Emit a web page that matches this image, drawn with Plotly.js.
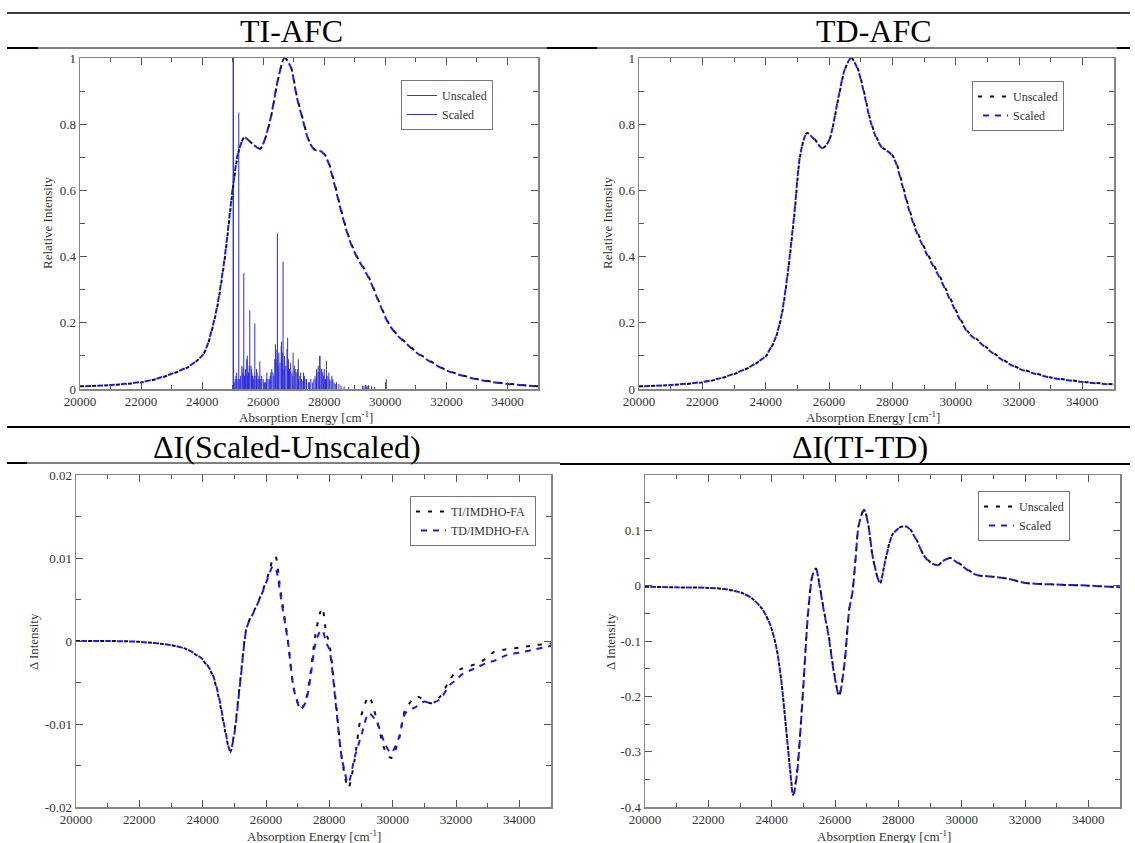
<!DOCTYPE html>
<html><head><meta charset="utf-8">
<script src="https://cdn.plot.ly/plotly-3.0.1.min.js"></script>
<style>html,body{margin:0;padding:0;background:#fff;} #chart{width:1135px;height:843px;}</style>
</head><body><div id="chart"></div>
<script>
// ---------- tick labels ----------
const xTickVals = [20000,22000,24000,26000,28000,30000,32000,34000];
const xTickText = ['20000','22000','24000','26000','28000','30000','32000','34000'];
const afcTickVals = [0,0.2,0.4,0.6,0.8,1];
const afcTickText = ['0','0.2','0.4','0.6','0.8','1'];
const duTickVals = [-0.02,-0.01,0,0.01,0.02];
const duTickText = ['-0.02','-0.01','0','0.01','0.02'];
const ttTickVals = [-0.4,-0.3,-0.2,-0.1,0,0.1];
const ttTickText = ['-0.4','-0.3','-0.2','-0.1','0','0.1'];

// ---------- TI-AFC (panel 1) ----------
const tiE = [20000,21000,22000,22500,23000,23500,23800,24000,24150,24300,24500,24750,25000,25200,25400,25600,25900,26200,26500,26700,26900,27100,27300,27500,27700,27900,28100,28300,28500,28700,28900,29100,29300,29500,29700,29900,30100,30400,30700,31000,31500,32000,32500,33000,33500,34000,35000];
const tiUnscaled = [0.008,0.012,0.020,0.030,0.045,0.064,0.083,0.100,0.125,0.170,0.250,0.400,0.600,0.720,0.762,0.745,0.726,0.800,0.940,1.000,0.975,0.885,0.815,0.750,0.722,0.720,0.695,0.635,0.560,0.490,0.435,0.395,0.365,0.330,0.285,0.240,0.200,0.163,0.138,0.113,0.083,0.057,0.042,0.030,0.022,0.016,0.008];
const tiScaled   = [0.008,0.012,0.021,0.031,0.046,0.065,0.084,0.101,0.127,0.173,0.253,0.405,0.605,0.722,0.760,0.744,0.727,0.802,0.942,1.000,0.973,0.882,0.812,0.748,0.721,0.718,0.692,0.630,0.556,0.487,0.432,0.393,0.362,0.327,0.282,0.238,0.198,0.161,0.136,0.111,0.081,0.056,0.041,0.029,0.021,0.015,0.008];
// stick spectra
const stickEUnscaled = [25020,25340,25480,25540,25620,25700,25800,25870,26100,26250,26400,26450,26600,26640,26800,26830,26980,27050,27150,27230,27320,27400,27750,27850,27920,28070,28150,28280,28400,29400,30030];
const stickIUnscaled = [1.0,0.065,0.100,0.070,0.060,0.040,0.050,0.030,0.030,0.050,0.135,0.090,0.143,0.110,0.155,0.090,0.110,0.060,0.090,0.050,0.050,0.030,0.060,0.100,0.060,0.085,0.050,0.030,0.020,0.010,0.030];
const stickEScaled = [25020,25050,25080,25110,25130,25170,25200,25230,25260,25300,25330,25365,25390,25420,25460,25490,25520,25560,25600,25630,25650,25690,25725,25760,25780,25830,25860,25890,25920,25950,26000,26040,26080,26120,26160,26200,26230,26280,26320,26350,26380,26420,26465,26490,26510,26550,26590,26620,26650,26680,26700,26740,26780,26820,26860,26900,26940,26970,27020,27080,27120,27160,27200,27260,27300,27350,27420,27480,27520,27560,27620,27660,27700,27730,27760,27800,27830,27860,27900,27950,27980,28000,28040,28080,28120,28180,28220,28250,28320,28360,28400,28480,28550,28650,28800,29250,29300,29350,29400,29450,29550,29650];
const stickIScaled = [1.0,0.02,0.03,0.04,0.05,0.03,0.835,0.03,0.04,0.07,0.05,0.35,0.04,0.06,0.09,0.04,0.05,0.238,0.07,0.05,0.04,0.03,0.198,0.04,0.06,0.03,0.04,0.083,0.03,0.04,0.03,0.02,0.02,0.05,0.03,0.03,0.04,0.06,0.05,0.04,0.09,0.12,0.47,0.07,0.11,0.08,0.13,0.08,0.385,0.06,0.10,0.07,0.12,0.06,0.06,0.08,0.05,0.04,0.07,0.05,0.06,0.03,0.04,0.03,0.025,0.04,0.03,0.02,0.02,0.03,0.02,0.03,0.04,0.03,0.05,0.07,0.05,0.10,0.06,0.05,0.04,0.06,0.03,0.04,0.04,0.03,0.025,0.04,0.02,0.015,0.02,0.015,0.01,0.008,0.006,0.01,0.008,0.012,0.007,0.011,0.008,0.006];

// ---------- TD-AFC (panel 2) ----------
const tdE = [20000,21000,22000,22500,23000,23500,23800,24000,24300,24500,24700,24900,25100,25300,25500,25800,26000,26300,26500,26700,26900,27100,27300,27500,27700,27900,28100,28300,28500,28700,28900,29100,29300,29500,29700,29900,30100,30400,30700,31000,31500,32000,32500,33000,34000,35000];
const tdUnscaled = [0.008,0.012,0.020,0.030,0.045,0.066,0.084,0.098,0.150,0.220,0.350,0.520,0.710,0.773,0.760,0.728,0.750,0.880,0.965,1.000,0.970,0.900,0.815,0.760,0.728,0.718,0.690,0.625,0.555,0.495,0.450,0.410,0.375,0.340,0.300,0.260,0.220,0.172,0.148,0.124,0.088,0.063,0.048,0.035,0.022,0.014];
const tdScaled   = [0.008,0.012,0.021,0.031,0.046,0.067,0.085,0.100,0.152,0.223,0.354,0.525,0.712,0.772,0.758,0.727,0.751,0.882,0.966,1.000,0.968,0.897,0.812,0.757,0.726,0.715,0.686,0.620,0.550,0.490,0.445,0.405,0.370,0.335,0.295,0.255,0.216,0.169,0.145,0.121,0.086,0.061,0.046,0.034,0.021,0.013];

// ---------- dI(Scaled-Unscaled) (panel 3) ----------
const duE = [20000,21000,22000,23000,23500,24000,24300,24500,24700,24870,25000,25200,25400,25630,25860,26090,26210,26300,26440,26500,26690,26890,27100,27250,27400,27550,27700,27780,27900,28000,28200,28400,28600,28800,29000,29250,29500,29750,29950,30200,30400,30750,31000,31200,31500,31800,32000,32200,32600,33000,33200,33600,34000,34500,35000];
const duTI = [0,0,-0.0001,-0.0005,-0.001,-0.0023,-0.004,-0.0067,-0.0107,-0.0134,-0.011,-0.0043,0.0018,0.0037,0.0057,0.0082,0.0098,0.0102,0.0065,0.005,0.0001,-0.0059,-0.0082,-0.0072,-0.004,0.0005,0.0033,0.004,0.001,-0.0003,-0.0071,-0.0143,-0.0177,-0.0143,-0.0091,-0.0067,-0.0095,-0.0131,-0.0141,-0.0118,-0.0083,-0.0067,-0.0071,-0.0075,-0.0067,-0.0047,-0.0037,-0.0033,-0.0028,-0.002,-0.0013,-0.001,-0.0008,-0.0005,-0.0003];
const duTD = [0,0,-0.0001,-0.0005,-0.001,-0.0022,-0.0039,-0.0065,-0.0105,-0.0133,-0.0112,-0.0045,0.0017,0.0036,0.0056,0.0079,0.009,0.0088,0.006,0.0045,0.0,-0.006,-0.0082,-0.0074,-0.0045,-0.0005,0.0011,0.0013,-0.0002,-0.001,-0.0075,-0.0142,-0.0171,-0.014,-0.0115,-0.0087,-0.0098,-0.0123,-0.0135,-0.0116,-0.0087,-0.0079,-0.0073,-0.0075,-0.007,-0.0053,-0.0047,-0.004,-0.0033,-0.0026,-0.0024,-0.0017,-0.0014,-0.001,-0.0006];

// ---------- dI(TI-TD) (panel 4) ----------
const ttE = [20000,21000,22000,22500,22800,23100,23400,23700,23950,24150,24300,24450,24580,24680,24800,25000,25150,25300,25400,25500,25640,25800,25950,26130,26300,26450,26550,26650,26750,26920,27050,27200,27420,27600,27800,28000,28250,28400,28600,28800,29000,29250,29450,29650,30000,30300,30500,31000,31500,32000,33000,34000,35000];
const ttUnscaled = [-0.002,-0.003,-0.004,-0.006,-0.009,-0.014,-0.024,-0.042,-0.070,-0.112,-0.170,-0.255,-0.330,-0.378,-0.338,-0.181,-0.048,0.022,0.031,0.005,-0.042,-0.090,-0.150,-0.198,-0.140,-0.042,-0.012,0.049,0.110,0.138,0.110,0.049,0.004,0.049,0.091,0.104,0.108,0.100,0.080,0.055,0.043,0.037,0.047,0.050,0.037,0.025,0.019,0.016,0.012,0.005,0.002,0.000,-0.003];
const ttScaled   = [-0.002,-0.003,-0.004,-0.006,-0.009,-0.014,-0.024,-0.042,-0.070,-0.112,-0.170,-0.255,-0.332,-0.380,-0.340,-0.183,-0.050,0.021,0.030,0.004,-0.043,-0.092,-0.152,-0.199,-0.141,-0.043,-0.013,0.048,0.109,0.137,0.110,0.050,0.005,0.048,0.090,0.103,0.107,0.099,0.079,0.055,0.042,0.037,0.046,0.049,0.036,0.024,0.019,0.016,0.012,0.005,0.002,0.000,-0.003];

// ---------- drawing ----------
const W = 1135, H = 843;
const FONT = '"Liberation Serif", "Times New Roman", Times, serif';
const BLACK = '#111111', BLUE = 'rgb(25,25,245)';
const DASH_BLACK = '4px,8px', DASH_BLUE = '0px,5px,6px,1px';
const px = v => v / W, py = v => 1 - v / H;

function xAxis(l, r, anchor) {
  return {domain:[px(l), px(r)], anchor, range:[20000,35000], tickmode:'array', tickvals:xTickVals, ticktext:xTickText,
    ticks:'inside', ticklen:7, tickwidth:1, tickcolor:'#555',
    minor:{ticks:'inside', dtick:1000, tick0:20000, ticklen:4, tickwidth:1, tickcolor:'#555'},
    showline:true, linecolor:'#858585', linewidth:1.5, mirror:'ticks', showgrid:false, zeroline:false,
    tickfont:{family:FONT, size:13, color:'#333'}, fixedrange:true};
}
function yAxis(t, b, anchor, range, vals, text, minorD) {
  return {domain:[py(b), py(t)], anchor, range, tickmode:'array', tickvals:vals, ticktext:text,
    ticks:'inside', ticklen:7, tickwidth:1, tickcolor:'#555',
    minor:{ticks:'inside', dtick:minorD, tick0:0, ticklen:5, tickwidth:1, tickcolor:'#555'},
    showline:true, linecolor:'#858585', linewidth:1.5, mirror:'ticks', showgrid:false, zeroline:false,
    tickfont:{family:FONT, size:13, color:'#333'}, fixedrange:true};
}
function curve(x, y, ax, color, dash, name, legend, show) {
  return {type:'scatter', mode:'lines', x, y, xaxis:'x'+ax, yaxis:'y'+ax, name, legend, showlegend:show,
    line:{color, width:2, dash, shape:'spline', smoothing:0.8}, hoverinfo:'skip'};
}
function sticks(E, I, ax, color, name, legend) {
  const xs = [], ys = [];
  E.forEach((e, i) => { xs.push(e, e, null); ys.push(0, I[i], null); });
  return {type:'scatter', mode:'lines', x:xs, y:ys, xaxis:'x'+ax, yaxis:'y'+ax, name, legend, showlegend:true,
    line:{color, width:1}, hoverinfo:'skip'};
}

const traces = [
  sticks(stickEUnscaled, stickIUnscaled, '', '#444', 'Unscaled', 'legend'),
  sticks(stickEScaled, stickIScaled, '', 'rgb(40,40,235)', 'Scaled', 'legend'),
  curve(tiE, tiUnscaled, '', BLACK, DASH_BLACK, 'Unscaled', 'legend', false),
  curve(tiE, tiScaled, '', BLUE, DASH_BLUE, 'Scaled', 'legend', false),
  curve(tdE, tdUnscaled, '2', BLACK, DASH_BLACK, 'Unscaled', 'legend2', true),
  curve(tdE, tdScaled, '2', BLUE, DASH_BLUE, 'Scaled', 'legend2', true),
  curve(duE, duTI, '3', BLACK, DASH_BLACK, 'TI/IMDHO-FA', 'legend3', true),
  curve(duE, duTD, '3', BLUE, DASH_BLUE, 'TD/IMDHO-FA', 'legend3', true),
  curve(ttE, ttUnscaled, '4', BLACK, DASH_BLACK, 'Unscaled', 'legend4', true),
  curve(ttE, ttScaled, '4', BLUE, DASH_BLUE, 'Scaled', 'legend4', true)
];

function legendBox(l, t) {
  return {x:px(l), y:py(t), xanchor:'left', yanchor:'top', bgcolor:'#fff', bordercolor:'#777', borderwidth:1,
    font:{family:FONT, size:12, color:'#333'}, itemwidth:30, tracegroupgap:0};
}
function ann(text, x, y, size, angle, color) {
  return {text, x:px(x), y:py(y), xref:'paper', yref:'paper', xanchor:'center', yanchor:'middle', showarrow:false,
    textangle:angle || 0, font:{family:FONT, size, color:color || '#333'}};
}
function hline(x0, x1, y, w) {
  return {type:'line', xref:'paper', yref:'paper', x0:px(x0), x1:px(x1), y0:py(y), y1:py(y), line:{color:'#000', width:w}};
}
const xTitle = 'Absorption Energy [cm<sup>-1</sup>]';

const layout = {
  width:W, height:H, margin:{l:0, r:0, t:0, b:0}, paper_bgcolor:'#fff', plot_bgcolor:'#fff', hovermode:false,
  font:{family:FONT},
  xaxis: xAxis(80, 538, 'y'),
  yaxis: yAxis(58, 389, 'x', [0,1], afcTickVals, afcTickText, 0.1),
  xaxis2: xAxis(639, 1114, 'y2'),
  yaxis2: yAxis(58, 389, 'x2', [0,1], afcTickVals, afcTickText, 0.1),
  xaxis3: xAxis(76, 551, 'y3'),
  yaxis3: yAxis(475, 807, 'x3', [-0.02,0.02], duTickVals, duTickText, 0.005),
  xaxis4: xAxis(645, 1120, 'y4'),
  yaxis4: yAxis(475, 807, 'x4', [-0.4,0.2], ttTickVals, ttTickText, 0.05),
  legend: legendBox(401, 80),
  legend2: legendBox(972, 81),
  legend3: legendBox(410, 496),
  legend4: legendBox(978, 491),
  annotations: [
    ann('TI-AFC', 291, 31, 32, 0, '#000'),
    ann('TD-AFC', 874, 31, 32, 0, '#000'),
    ann('ΔI(Scaled-Unscaled)', 287, 447, 32, 0, '#000'),
    ann('ΔI(TI-TD)', 860, 447, 32, 0, '#000'),
    ann(xTitle, 306, 417, 13), ann(xTitle, 873, 417, 13),
    ann(xTitle, 314, 836, 13), ann(xTitle, 884, 836, 13),
    ann('Relative Intensity', 48, 223, 13, -90), ann('Relative Intensity', 608, 223, 13, -90),
    ann('Δ Intensity', 33, 642, 13, -90), ann('Δ Intensity', 610, 642, 13, -90)
  ],
  shapes: [
    hline(7, 1130, 13, 1.5),
    hline(7, 1130, 48, 1),
    hline(7, 38, 48, 2), hline(547, 597, 48, 2), hline(1117, 1130, 48, 2),
    hline(7, 1130, 427, 2),
    hline(7, 560, 463, 1),
    hline(7, 27, 463, 2), hline(560, 1130, 464, 2)
  ]
};
Plotly.newPlot('chart', traces, layout, {staticPlot:true, displayModeBar:false});
</script></body></html>
